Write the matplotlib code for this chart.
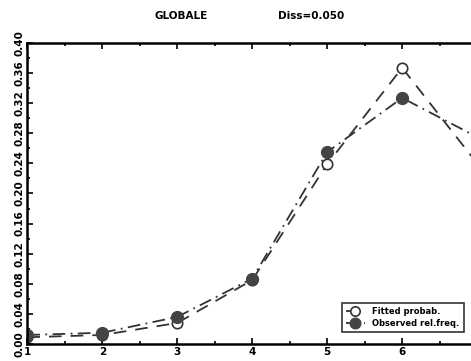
import numpy as np
import matplotlib
matplotlib.use("Agg")
import matplotlib.pyplot as plt
from matplotlib.ticker import MultipleLocator, FormatStrFormatter, FuncFormatter

# values
categories = [1, 2, 3, 4, 5, 6, 7]
fitted = [0.009, 0.012, 0.028, 0.085, 0.239, 0.367, 0.240]
observed = [0.012, 0.015, 0.036, 0.087, 0.255, 0.327, 0.275]
title_left = "GLOBALE"
title_right = "Diss=0.050"

plt.rcParams['font.family'] = ['DejaVu Sans']
plt.rcParams['font.weight'] = 'bold'

fig = plt.figure(figsize=(4.71, 3.61), dpi=100)
ax = fig.add_axes([0.058, 0.047, 0.955, 0.834])

ax.plot(categories, fitted, color='#333333', linestyle=(0, (7, 5)), linewidth=1.3,
        marker='o', markersize=7.5, markerfacecolor='white', markeredgecolor='#333333',
        markeredgewidth=1.2, label='Fitted probab.')
ax.plot(categories, observed, color='#333333', linestyle=(0, (7, 3, 1, 3)), linewidth=1.3,
        marker='o', markersize=8.5, markerfacecolor='#444444', markeredgecolor='#444444',
        label='Observed rel.freq.')

ax.set_xlim(1, 7)
ax.set_ylim(0, 0.40)
ax.xaxis.set_major_locator(MultipleLocator(1))
ax.xaxis.set_minor_locator(MultipleLocator(0.5))
ax.yaxis.set_major_locator(MultipleLocator(0.04))
ax.yaxis.set_minor_locator(MultipleLocator(0.02))
ax.yaxis.set_major_formatter(FormatStrFormatter('%.2f'))
# the 7 label falls outside the cropped picture
ax.xaxis.set_major_formatter(FuncFormatter(lambda v, p: '%d' % v if v < 6.5 else ''))

ax.tick_params(which='both', direction='in', top=True, right=True, width=1.2)
ax.tick_params(which='major', length=4, labelsize=7.5, pad=2)
ax.tick_params(which='minor', length=2.5)
for lbl in ax.get_yticklabels():
    lbl.set_rotation(90)
    lbl.set_va('center')
for s in ax.spines.values():
    s.set_linewidth(1.8)

for lbl in ax.get_xticklabels() + ax.get_yticklabels():
    lbl.set_fontweight('bold')

fig.text(0.385, 0.955, title_left, fontsize=7.5, fontweight='bold', ha='center', va='center')
fig.text(0.66, 0.955, title_right, fontsize=7.5, fontweight='bold', ha='center', va='center')

leg = ax.legend(loc='lower right', bbox_to_anchor=(0.98, 0.025), fontsize=6,
                frameon=True, fancybox=False, edgecolor='black', handlelength=2.2,
                handletextpad=0.9, borderpad=0.55, labelspacing=0.3, markerscale=0.9)
leg.get_frame().set_linewidth(1.2)

fig.savefig("out.png", dpi=100)
